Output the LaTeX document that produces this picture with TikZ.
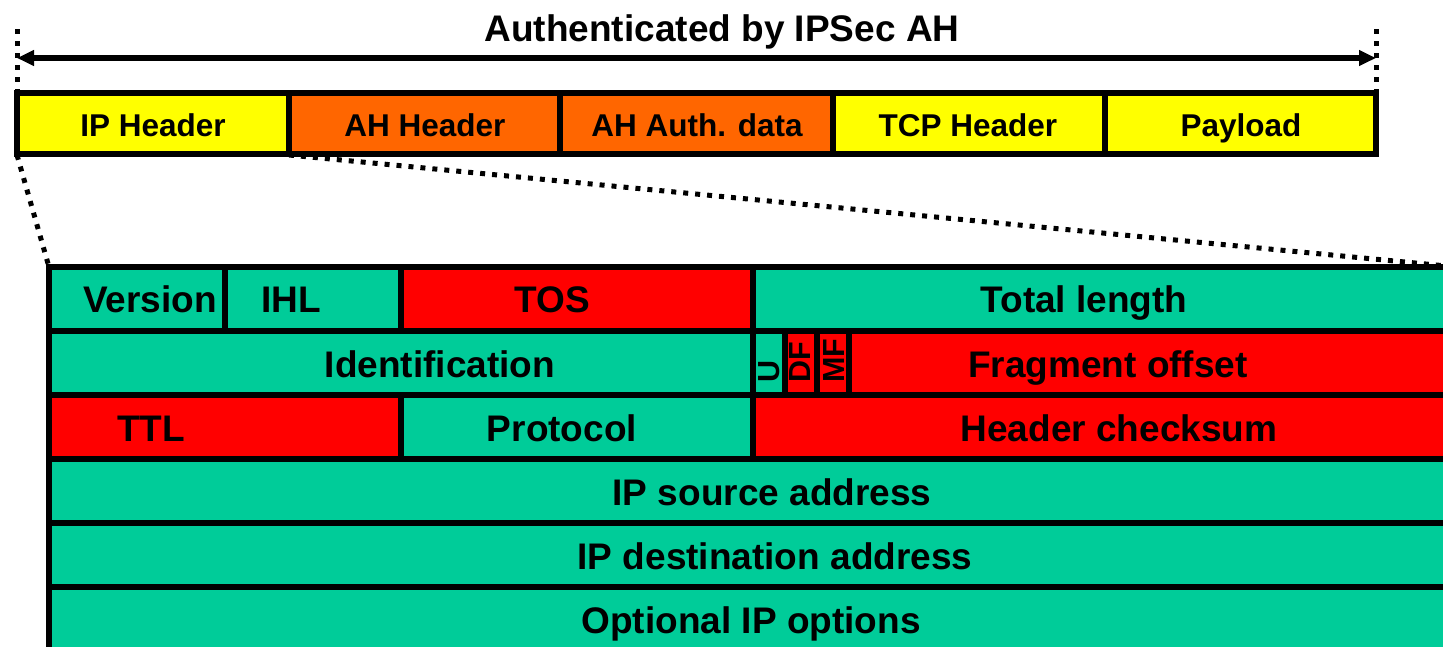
\documentclass[tikz,border=0pt]{standalone}
\usepackage{fontspec}
\setmainfont{Liberation Sans}
\usetikzlibrary{arrows.meta}
\definecolor{ipyellow}{RGB}{255,255,0}
\definecolor{ahorange}{RGB}{255,102,0}
\definecolor{hgreen}{RGB}{0,204,153}
\definecolor{hred}{RGB}{255,0,0}
\begin{document}
\begin{tikzpicture}[x=1pt,y=1pt,
  cell/.style={draw=black,line width=6pt},
  lbl/.style={inner sep=0pt,font=\fontsize{31.5}{36}\selectfont\bfseries,text height=22.5pt,text depth=0pt},
  tlbl/.style={inner sep=0pt,font=\fontsize{37}{42}\selectfont\bfseries,text height=26.5pt,text depth=0pt},
  vlbl/.style={inner sep=0pt,font=\fontsize{30.5}{36}\selectfont\bfseries,text height=22pt,text depth=0pt,rotate=90,anchor=south west},
  titlelbl/.style={inner sep=0pt,font=\fontsize{37}{42}\selectfont\bfseries,text height=26.5pt,text depth=0pt},
  dotline/.style={line width=5pt,dash pattern=on 5pt off 7pt},
  arrowline/.style={line width=6pt,{Triangle[length=17pt,width=15pt]}-{Triangle[length=17pt,width=15pt]}}]
\useasboundingbox (0,0) rectangle (1443,-646);
\clip (0,0) rectangle (1443,-646);
\fill[white] (0,0) rectangle (1443,-646);

% title and arrow
\node[titlelbl] (title) at (722,-28) {Authenticated by IPSec AH};
\coordinate (vlt) at (17,-29);
\coordinate (vlb) at (17,-92);
\coordinate (vrt) at (1376,-29);
\coordinate (vrb) at (1376,-92);
\draw[dotline] (vlt) -- (vlb);
\draw[dotline] (vrt) -- (vrb);
\coordinate (arrL) at (17,-58);
\coordinate (arrR) at (1376,-58);
\draw[arrowline] (arrL) -- (arrR);

% zoom lines
\coordinate (ipbl) at (17,-155);
\coordinate (ipbr) at (289,-155);
\coordinate (tabtl) at (49,-267);
\coordinate (tabtr) at (1457,-267);
\draw[dotline] (ipbl) -- (tabtl);
\draw[dotline] (ipbr) -- (tabtr);

% packet row
\draw[cell,fill=ipyellow] (17,-93) rectangle (289,-154);
\draw[cell,fill=ahorange] (289,-93) rectangle (560,-154);
\draw[cell,fill=ahorange] (560,-93) rectangle (833,-154);
\draw[cell,fill=ipyellow] (833,-93) rectangle (1105,-154);
\draw[cell,fill=ipyellow] (1105,-93) rectangle (1376,-154);
\node[lbl] (iph) at (153,-125) {IP Header};
\node[lbl] (ahh) at (425,-125) {AH Header};
\node[lbl] (ahd) at (697,-125) {AH Auth. data};
\node[lbl] (tcph) at (968,-125) {TCP Header};
\node[lbl] (pay) at (1241,-125) {Payload};

% IP header table
% row 1
\draw[cell,fill=hgreen] (49,-267) rectangle (225,-331);
\draw[cell,fill=hgreen] (225,-267) rectangle (401,-331);
\draw[cell,fill=hred] (401,-267) rectangle (753,-331);
\draw[cell,fill=hgreen] (753,-267) rectangle (1457,-331);
\node[tlbl] (ver) at (150,-299) {Version};
\node[tlbl] (ihl) at (291,-299) {IHL};
\node[tlbl] (tos) at (552,-299) {TOS};
\node[tlbl] (tlen) at (1084,-299) {Total length};
% row 2
\draw[cell,fill=hgreen] (49,-331) rectangle (753,-395);
\draw[cell,fill=hgreen] (753,-331) rectangle (785,-395);
\draw[cell,fill=hred] (785,-331) rectangle (817,-395);
\draw[cell,fill=hred] (817,-331) rectangle (849,-395);
\draw[cell,fill=hred] (849,-331) rectangle (1457,-395);
\node[tlbl] (ident) at (440,-364) {Identification};
\node[vlbl] (uflag) at (780,-383) {U};
\node[vlbl] (dfflag) at (811,-383) {DF};
\node[vlbl] (mfflag) at (845,-383) {MF};
\node[tlbl] (frag) at (1108,-364) {Fragment offset};
% row 3
\draw[cell,fill=hred] (49,-395) rectangle (401,-459);
\draw[cell,fill=hgreen] (401,-395) rectangle (753,-459);
\draw[cell,fill=hred] (753,-395) rectangle (1457,-459);
\node[tlbl] (ttl) at (151,-428) {TTL};
\node[tlbl] (proto) at (562,-428) {Protocol};
\node[tlbl] (hcs) at (1119,-428) {Header checksum};
% rows 4-6
\draw[cell,fill=hgreen] (49,-459) rectangle (1457,-523);
\draw[cell,fill=hgreen] (49,-523) rectangle (1457,-587);
\draw[cell,fill=hgreen] (49,-587) rectangle (1457,-651);
\node[tlbl] (src) at (772,-492) {IP source address};
\node[tlbl] (dst) at (775,-556) {IP destination address};
\node[tlbl] (opt) at (751,-620) {Optional IP options};
\end{tikzpicture}
\end{document}
